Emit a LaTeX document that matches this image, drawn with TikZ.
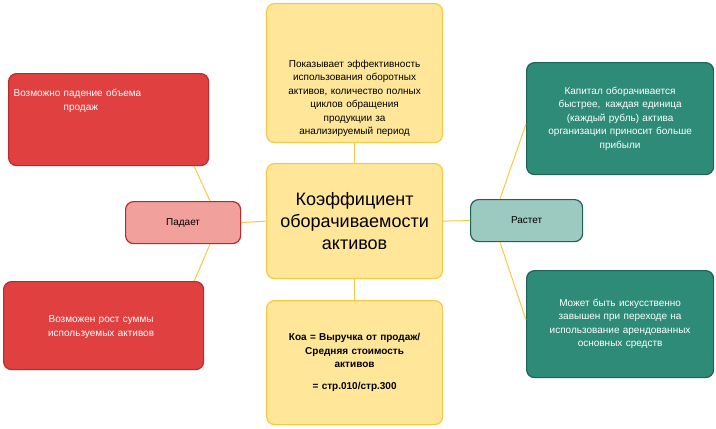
\documentclass[tikz,border=0pt]{standalone}
\usepackage{fontspec}
\setmainfont{Liberation Sans}
\usetikzlibrary{positioning}
\definecolor{ylwfill}{RGB}{255,230,153}
\definecolor{ylwdraw}{RGB}{247,200,70}
\definecolor{redfill}{RGB}{224,64,64}
\definecolor{reddraw}{RGB}{190,40,40}
\definecolor{pinkfill}{RGB}{242,160,156}
\definecolor{tealfill}{RGB}{46,139,119}
\definecolor{tealdraw}{RGB}{30,100,85}
\definecolor{ltealfill}{RGB}{156,201,192}
\definecolor{linecol}{RGB}{247,200,70}
\begin{document}
\begin{tikzpicture}[x=1pt,y=1pt,
  box/.style={rounded corners=8pt, line width=1.2pt, align=center, inner sep=4pt, font=\fontsize{10}{13.5}\selectfont},
  ylw/.style={box, fill=ylwfill, draw=ylwdraw, text=black},
  redbox/.style={box, fill=redfill, draw=reddraw, text=white},
  tealbox/.style={box, fill=tealfill, draw=tealdraw, text=white},
  link/.style={line width=1pt, draw=linecol}]
\useasboundingbox (0,0) rectangle (716,-429);
% center column
\node (top) [ylw, minimum width=176pt, minimum height=139pt, text width=166pt, anchor=north west] at (266,-3) {\raisebox{0pt}[0pt][12pt]{\parbox[t]{166pt}{\centering Показывает эффективность\\использования оборотных\\активов, количество полных\\циклов обращения\\продукции за\\анализируемый период}}};
\node (main) [ylw, minimum width=176pt, minimum height=115pt, text width=166pt, anchor=north west, font=\fontsize{18}{22}\selectfont] at (266,-163) {Коэффициент оборачиваемости активов};
\node (formula) [ylw, minimum width=176pt, minimum height=124pt, text width=166pt, anchor=north west, font=\bfseries\fontsize{10}{13.5}\selectfont] at (266,-300) {Коа = Выручка от продаж/\\Средняя стоимость\\активов\\[8pt] = стр.010/стр.300};
% left side
\node (down) [box, fill=pinkfill, draw=reddraw, minimum width=115pt, minimum height=42pt, anchor=north west] at (125,-201) {Падает};
\node (fall) [redbox, minimum width=200pt, minimum height=92pt, text width=190pt, align=left, anchor=north west] at (8,-73) {\raisebox{0pt}[0pt][46pt]{\parbox[t]{185pt}{Возможно падение объема\\\hspace*{50pt}продаж}}};
\node (grow) [redbox, minimum width=200pt, minimum height=88pt, text width=190pt, align=left, anchor=north west] at (3,-281) {\raisebox{0pt}[0pt][6pt]{\parbox[t]{185pt}{\centering Возможен рост суммы\\используемых активов}}};
% right side
\node (up) [box, fill=ltealfill, draw=tealdraw, text=black, minimum width=112pt, minimum height=42pt, anchor=north west] at (470,-199) {Растет};
\node (fast) [tealbox, minimum width=187pt, minimum height=112pt, text width=170pt, anchor=north west] at (526,-62) {Капитал оборачивается\\быстрее,\enspace каждая единица\\(каждый рубль) актива\\организации приносит больше\\прибыли};
\node (art) [tealbox, minimum width=187pt, minimum height=107pt, text width=170pt, anchor=north west] at (526,-270) {Может быть искусственно\\завышен при переходе на\\использование арендованных\\основных средств};
% connectors
\draw [link] (top) -- (main);
\draw [link] (main) -- (formula);
\draw [link] (main.west) -- (down.east);
\draw [link] (main.east) -- (up.west);
\draw [link] ([xshift=85pt]down.north west) -- ([xshift=-15pt]fall.south east);
\draw [link] ([xshift=85pt]down.south west) -- ([xshift=-10pt]grow.north east);
\draw [link] ([xshift=30pt]up.north west) -- ([yshift=-62pt]fast.north west);
\draw [link] ([xshift=30pt]up.south west) -- ([yshift=-50pt]art.north west);
\end{tikzpicture}
\end{document}
